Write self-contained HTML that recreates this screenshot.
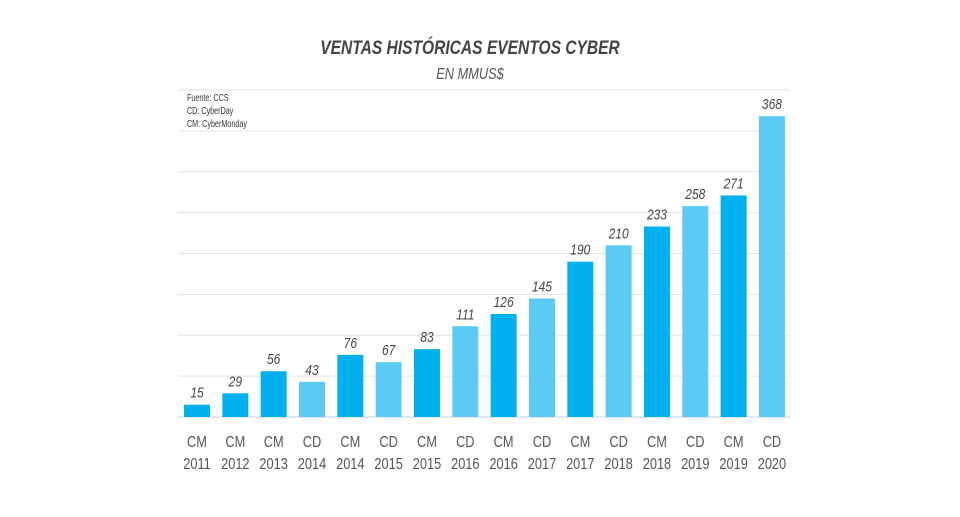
<!DOCTYPE html>
<html><head><meta charset="utf-8"><style>
body{margin:0;background:#fff;}
svg text{font-family:"Liberation Sans Narrow","Liberation Sans",sans-serif;}
</style></head><body>
<svg width="960" height="512" viewBox="0 0 960 512">
<g id="grid"></g>
<g id="bars"></g>
<g id="labels"></g>
<text x="470" y="54" text-anchor="middle" font-size="19" font-weight="bold" font-style="italic" fill="#444" transform="translate(470 0) scale(0.82 1) translate(-470 0)">VENTAS HISTÓRICAS EVENTOS CYBER</text>
<text x="470" y="79" text-anchor="middle" font-size="16" font-style="italic" fill="#555" transform="translate(470 0) scale(0.8 1) translate(-470 0)">EN MMUS$</text>
<g font-size="10" fill="#333" transform="translate(187 0) scale(0.72 1) translate(-187 0)">
<text x="187" y="101">Fuente: CCS</text>
<text x="187" y="114">CD: CyberDay</text>
<text x="187" y="127">CM: CyberMonday</text>
</g>
</svg>
<script>
const types=["CM","CM","CM","CD","CM","CD","CM","CD","CM","CD","CM","CD","CM","CD","CM","CD"];
const years=["2011","2012","2013","2014","2014","2015","2015","2016","2016","2017","2017","2018","2018","2019","2019","2020"];
const values=[15,29,56,43,76,67,83,111,126,145,190,210,233,258,271,368];
const gridTicks=[0,50,100,150,200,250,300,350,400];
const NS="http://www.w3.org/2000/svg";
const base=417,scale=327/400,x0=184,step=38.33,bw=26;
function y(v){return base-v*scale;}
function x(i){return x0+i*step;}
function mk(t,a,p){const e=document.createElementNS(NS,t);for(const k in a)e.setAttribute(k,a[k]);p.appendChild(e);return e;}
const g=document.getElementById('grid'),b=document.getElementById('bars'),l=document.getElementById('labels');
gridTicks.forEach(t=>{const ln=mk('line',{x1:178,x2:790,y1:y(t),y2:y(t),stroke:t===0?'#ccc':'#e2e2e2','stroke-width':1},g);

});
values.forEach((v,i)=>{
const r=mk('rect',{x:x(i),y:y(v),width:bw,height:v*scale,fill:types[i]==="CM"?"#00b0ef":"#5ccbf4"},b);


const cx=x(i)+bw/2;
const vt=mk('text',{x:cx,y:y(v)-7,'text-anchor':'middle','font-size':15,'font-style':'italic',fill:'#444',transform:`translate(${cx} 0) scale(0.8 1) translate(${-cx} 0)`},l);
vt.textContent=v;


const t1=mk('text',{x:cx,y:447,'text-anchor':'middle','font-size':16,fill:'#555',transform:`translate(${cx} 0) scale(0.8 1) translate(${-cx} 0)`},l);
t1.textContent=types[i];


const t2=mk('text',{x:cx,y:469,'text-anchor':'middle','font-size':16,fill:'#555',transform:`translate(${cx} 0) scale(0.8 1) translate(${-cx} 0)`},l);
t2.textContent=years[i];


});
</script>
</body></html>
